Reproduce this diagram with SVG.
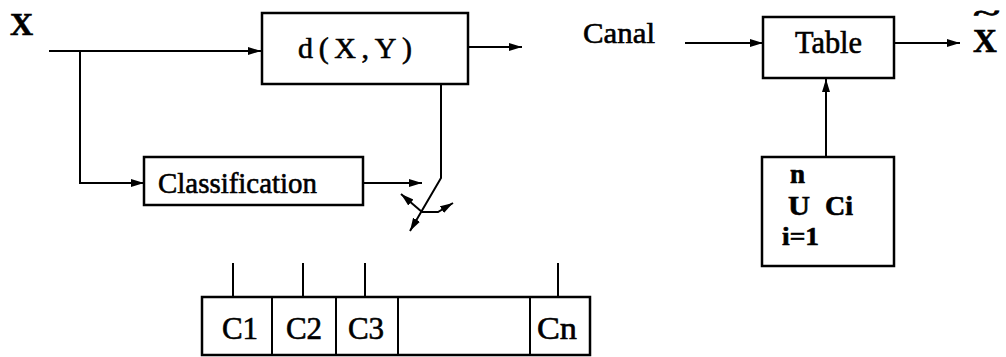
<svg xmlns="http://www.w3.org/2000/svg" width="1006" height="357" viewBox="0 0 1006 357">
  <style>
    .box { fill: #fff; stroke: #000; stroke-width: 2.5; }
    .wire { fill: none; stroke: #000; stroke-width: 2; }
    .arr { marker-end: url(#head); }
    .serif { font-family: "Liberation Serif", "Times New Roman", serif; fill: #000; stroke: #000; stroke-width: 0.6; }
  </style>
  <defs>
    <marker id="head" markerUnits="userSpaceOnUse" markerWidth="14" markerHeight="10" refX="13" refY="4.5" orient="auto">
      <path d="M0,0.5 L13,4.5 L0,8.5 z" fill="#000"/>
    </marker>
  </defs>

  <rect width="1006" height="357" fill="#fff"/>

  <!-- connectors -->
  <g id="connectors">
    <path class="wire arr" d="M49,51 H261"/>
    <path class="wire arr" d="M80,51 V183 H144"/>
    <path class="wire arr" d="M468,47 H522"/>
    <path class="wire arr" d="M363,183 H422"/>
    <!-- switch: lever from the distance block, pivot and three outputs -->
    <path class="wire arr" d="M441,84 V178 L410,231"/>
    <path class="wire arr" d="M422,212 L401,194"/>
    <path class="wire arr" d="M422,212 H438 L453,203"/>
    <!-- receiver side -->
    <path class="wire arr" d="M685,43 H763"/>
    <path class="wire arr" d="M894,43 H960"/>
    <path class="wire arr" d="M826,157 V79"/>
    <!-- class taps above the codebook -->
    <path class="wire" d="M233,263 V297 M303,263 V297 M365,263 V297 M558,263 V297"/>
  </g>

  <!-- input / output labels -->
  <g id="input">
    <text class="serif" x="10" y="35" font-size="32" font-weight="bold">X</text>
  </g>
  <g id="canal">
    <text class="serif" x="583" y="43" font-size="30" textLength="72" lengthAdjust="spacingAndGlyphs">Canal</text>
  </g>
  <g id="output">
    <!-- reconstructed vector: X with a tilde set high above it -->
    <text class="serif" x="973" y="52" font-size="33" font-weight="bold">X<tspan x="974" y="20" font-size="22" textLength="25" lengthAdjust="spacingAndGlyphs">~</tspan></text>
  </g>

  <!-- distance block -->
  <g id="distance">
    <rect class="box" x="262" y="13" width="206" height="71"/>
    <text class="serif" x="298" y="58" font-size="30" textLength="114">d(X,Y)</text>
  </g>

  <!-- classifier -->
  <g id="classification">
    <rect class="box" x="144" y="157" width="219" height="48"/>
    <text class="serif" x="158" y="193" font-size="30" textLength="159" lengthAdjust="spacingAndGlyphs">Classification</text>
  </g>

  <!-- codebook split into classes -->
  <g id="classes">
    <rect class="box" x="202" y="297" width="388" height="58"/>
    <path class="wire" d="M272,297 V355 M336,297 V355 M398,297 V355 M530,297 V355" stroke-width="2.5"/>
    <text class="serif" x="222" y="339" font-size="31" textLength="36">C1</text>
    <text class="serif" x="286" y="339" font-size="31" textLength="36">C2</text>
    <text class="serif" x="348" y="339" font-size="31" textLength="36">C3</text>
    <text class="serif" x="537" y="339" font-size="31" textLength="40" lengthAdjust="spacingAndGlyphs">Cn</text>
  </g>

  <!-- decoder table -->
  <g id="table">
    <rect class="box" x="763" y="17" width="131" height="61"/>
    <text class="serif" x="795" y="53" font-size="32" textLength="67" lengthAdjust="spacingAndGlyphs">Table</text>
  </g>

  <!-- union of all classes: stacked n / U / i=1 and the Ci term -->
  <g id="union">
    <rect class="box" x="762" y="157" width="132" height="109"/>
    <text class="serif" font-weight="bold"><tspan x="790" y="183" font-size="27">n</tspan><tspan x="788" y="215" font-size="28" textLength="22" lengthAdjust="spacingAndGlyphs">U</tspan><tspan x="782" y="245" font-size="26" textLength="37" lengthAdjust="spacingAndGlyphs">i=1</tspan></text>
    <text class="serif" x="825" y="215" font-size="28" font-weight="bold">Ci</text>
  </g>
</svg>
